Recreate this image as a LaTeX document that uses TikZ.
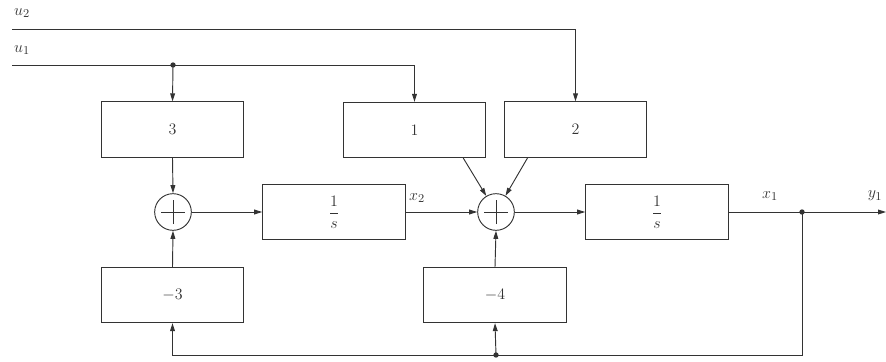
\documentclass[tikz,border=0pt]{standalone}
\usetikzlibrary{arrows.meta,calc}
\definecolor{ink}{HTML}{333333}
\begin{document}
\begin{tikzpicture}[x=0.75pt,y=-0.75pt, color=ink, line width=0.7pt,
  every node/.style={text=ink, font=\fontsize{12.5}{15}\selectfont},
  blk/.style={draw=ink, line width=0.7pt, minimum width=107pt, minimum height=41.5pt, inner sep=0pt},
  sumj/.style={draw=ink, line width=0.7pt, circle, minimum size=27.5pt, inner sep=0pt},
  arr/.style={-{Triangle[length=6pt,width=3.6pt]}},
  lab/.style={inner sep=1pt}]
\useasboundingbox (0,0) rectangle (886,361);
% blocks
\node[blk] (b3) at (172.5,129.5) {$3$};
\node[blk] (b1) at (414.5,130) {$1$};
\node[blk] (b2) at (575.5,129.5) {$2$};
\node[blk] (i1) at (334,212) {$\displaystyle\frac{1}{s}$};
\node[blk] (i2) at (657,212) {$\displaystyle\frac{1}{s}$};
\node[blk] (bm3) at (172.5,295) {$-3$};
\node[blk] (bm4) at (495,295) {$-4$};
\node[sumj] (s1) at (173,212) {};
\node[sumj] (s2) at (496,212) {};
\foreach \s in {s1,s2}{
  \draw ([xshift=-9pt]\s.center) -- ([xshift=9pt]\s.center);
  \draw ([yshift=-9pt]\s.center) -- ([yshift=9pt]\s.center);
}
% coordinates
\coordinate (u2s) at (12,29);
\coordinate (u1s) at (12,65);
\coordinate (d1) at (173,65);
\coordinate (d2) at (802,212);
\coordinate (yend) at (886,212);
\coordinate (bot) at (496,355);
% labels
\node[lab] (lu2) at (22,13) {$u_2$};
\node[lab] (lu1) at (22,50) {$u_1$};
\node[lab] (lx2) at (417,198) {$x_2$};
\node[lab] (lx1) at (770,196) {$x_1$};
\node[lab,anchor=west] (ly1) at (866,196) {$y_1$};
% inputs
\draw[arr] (u2s) -| (b2.north);
\draw[arr] (u1s) -| (b1.north);
\draw[arr] (d1) -- (b3.north);
\fill (d1) circle (2pt);
\draw[arr] (b3.south) -- (s1.north);
\draw[arr] (s1.east) -- (i1.west);
\draw[arr] (i1.east) -- (s2.west);
\draw[arr] (s2.east) -- (i2.west);
\draw (i2.east) -- (d2);
\draw[arr] (d2) -- (yend);
\fill (d2) circle (2pt);
\coordinate (p1) at ($(b1.south east)+(-23,0)$);
\coordinate (p2) at ($(b2.south west)+(24,0)$);
\draw[arr] (p1) -- (s2);
\draw[arr] (p2) -- (s2);
% feedback
\draw (d2) |- (bot);
\draw[arr] (bot) -| (bm3.south);
\draw[arr] (bot) -- (bm4.south);
\fill (bot) circle (2pt);
\draw[arr] (bm3.north) -- (s1.south);
\draw[arr] (bm4.north) -- (s2.south);
\end{tikzpicture}
\end{document}
